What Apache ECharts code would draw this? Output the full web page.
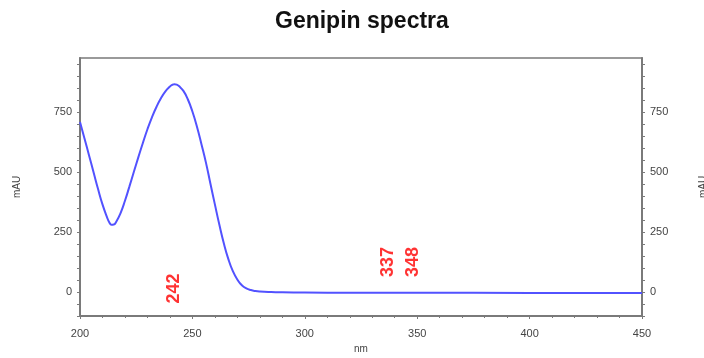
<!DOCTYPE html>
<html><head><meta charset="utf-8">
<script src="https://cdn.jsdelivr.net/npm/echarts@6/dist/echarts.min.js"></script>
<style>html,body{margin:0;padding:0;background:#fff}#c{width:704px;height:358px}</style>
</head><body><div id="c"></div>
<script>
var wavelengths = [200,202,204,206,208,210,212,213,214,215,216,218,220,222,224,226,228,230,232,234,236,238,240,241,242,243,244,246,248,250,252,254,256,258,260,262,264,266,268,270,272,274,276,278,280,285,290,300,320,350,400,450];
var absorbance  = [708,640,570,500,430,365,312,291,280,281,291,328,380,440,502,563,622,678,728,771,807,836,856,863,866,864,858,838,802,752,690,617,540,452,365,280,202,137,87,52,28,15,8,4,2,0,-1,-2,-3,-3,-4,-4];
var peakLabels = [242, 337, 348];
var peakLabelY = [15, 125, 125];
var yTicks = [0, 250, 500, 750];

var lineData = wavelengths.map(function(w,i){return [w, absorbance[i]];});
var peakData = peakLabels.map(function(w,i){return [w, peakLabelY[i]];});

var axisColor = '#7a7a7a';
var labelStyle = {color:'#444', fontSize:11, fontFamily:'Liberation Sans, Arial, sans-serif'};
function yFmt(v){ return yTicks.indexOf(v) >= 0 ? String(v) : ''; }

var chart = echarts.init(document.getElementById('c'), null, {renderer:'canvas'});
chart.setOption({
  animation:false,
  title:{text:'Genipin spectra', left:270, top:5,
    textStyle:{fontSize:23, fontWeight:'bold', color:'#111', fontFamily:'Liberation Sans, Arial, sans-serif'}},
  grid:{left:80, right:62, top:58, bottom:42, show:true, borderColor:axisColor, borderWidth:1.5, backgroundColor:'#fff',
    outerBoundsMode:'none', containLabel:false},
  xAxis:{type:'value', min:200, max:450, interval:50,
    name:'nm', nameLocation:'middle', nameGap:28,
    nameTextStyle:{color:'#444', fontSize:10, fontFamily:'Liberation Sans, Arial, sans-serif'},
    axisLine:{show:true, onZero:false, lineStyle:{color:axisColor, width:2}},
    axisTick:{show:true, length:3, lineStyle:{color:axisColor}},
    minorTick:{show:true, splitNumber:5, length:2, lineStyle:{color:axisColor}},
    axisLabel:Object.assign({margin:12}, labelStyle),
    splitLine:{show:false}},
  yAxis:[
    {type:'value', min:-100, max:975, interval:50, position:'left',
     name:'mAU', nameLocation:'middle', nameGap:58,
     nameTextStyle:{color:'#444', fontSize:10, fontFamily:'Liberation Sans, Arial, sans-serif'},
     axisLine:{show:true, onZero:false, lineStyle:{color:axisColor, width:2}},
     axisTick:{show:true, length:3, lineStyle:{color:axisColor}},
     axisLabel:Object.assign({margin:8, formatter:yFmt, showMaxLabel:false}, labelStyle),
     splitLine:{show:false}},
    {type:'value', min:-100, max:975, interval:50, position:'right',
     name:'mAU', nameLocation:'middle', nameGap:56,
     nameTextStyle:{color:'#444', fontSize:10, fontFamily:'Liberation Sans, Arial, sans-serif'},
     axisLine:{show:true, onZero:false, lineStyle:{color:axisColor, width:2}},
     axisTick:{show:true, length:3, lineStyle:{color:axisColor}},
     axisLabel:Object.assign({margin:8, formatter:yFmt, showMaxLabel:false}, labelStyle),
     splitLine:{show:false}}
  ],
  series:[
    {type:'line', data:lineData, smooth:0.5, showSymbol:false, symbol:'none',
     lineStyle:{color:'#5252ff', width:2}, z:3},
    {type:'scatter', data:peakData, symbolSize:0, z:4,
     label:{show:true, position:'inside', rotate:90, formatter:function(p){return String(p.value[0]);},
       color:'#ff0000', fontSize:18, fontWeight:'bold', fontFamily:'Liberation Sans, Arial, sans-serif'}}
  ]
});
</script></body></html>
